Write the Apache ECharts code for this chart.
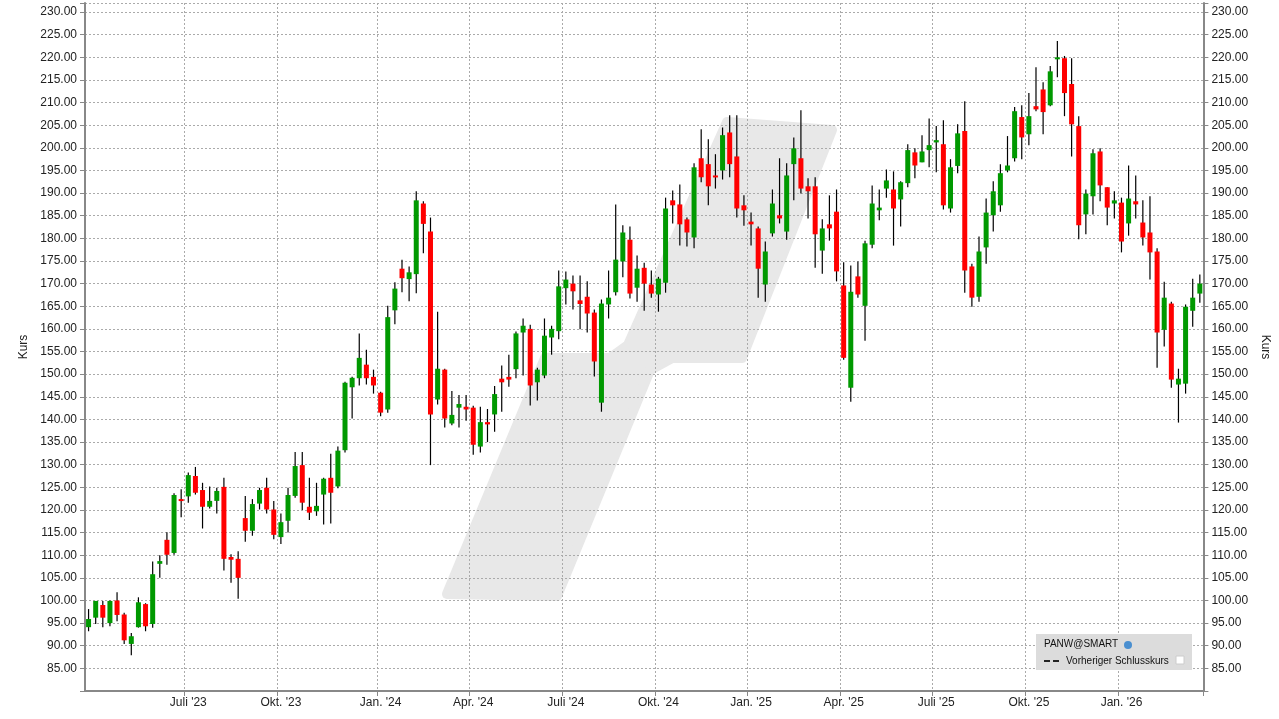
<!DOCTYPE html>
<html>
<head>
    <meta charset="utf-8">
    <script src="https://cdn.jsdelivr.net/npm/echarts@6/dist/echarts.min.js"></script>
    <style>
    html, body { margin: 0; padding: 0; background: #fff; }
    #main { width: 1279px; height: 719px; }
    </style>
    <title>PANW@SMART</title>
</head>
<body>
    <div id="main"></div>
    <script type="text/javascript">

        // weekly candles, first week starts 2023-03-20
        var startDate = '2023-03-20';

        var open = [94.1,96.2,99.0,95.0,100.0,96.9,90.4,94.1,99.2,94.8,108.1,113.4,110.5,122.4,123.0,127.5,124.4,120.7,122.0,125.1,109.6,109.2,118.2,115.4,121.4,
            124.9,120.1,114,117.6,123.1,129.9,120.7,119.7,123.4,127.1,125.2,133.2,147.1,149.1,152.1,149.4,145.9,142.2,164.1,173.3,171.0,172.1,187.7,181.5,144.4,151.0,
            139.1,142.6,142.8,142.6,134.0,139.4,141.1,149.0,149.4,151.1,159.2,160.0,148.2,149.7,158.1,159.5,169.0,170.0,166.3,167.1,163.6,143.7,165.4,168.1,
            174.9,179.7,169.1,173.5,169.8,167.6,170.2,188.4,187.5,184.2,180.2,197.7,196.4,193.9,195.0,203.4,198.1,187.3,183.7,182.2,169.8,181.1,185.1,181.5,196.4,
            197.7,191.5,191.5,177.3,183.1,185.9,169.6,147.0,171.6,165.1,178.6,186.2,191.0,190.8,188.6,192.2,199.0,196.8,199.5,201.2,200.8,186.6,196.0,203.7,173.8,
            167.1,178.0,185.1,187.3,195.0,197.7,206.8,203.0,209.2,212.9,209.4,219.6,219.8,214.1,204.8,185.3,189.3,199.2,191.3,187.7,187.9,183.3,188.2,183.5,181.3,177.1,159.8,165.6,147.7,147.9,164.0,167.8];

        var close = [95.9,99.9,96.2,99.9,96.8,91.2,92.1,99.6,94.3,105.8,108.7,110.1,123.3,122.0,127.7,123.8,120.7,122.0,124.2,109.2,109.0,105.0,115.4,121.3,124.4,
            120.1,114.5,117.3,123.3,129.7,121.6,119.4,120.9,126.9,123.8,133.1,148.1,149.2,153.6,149.1,147.5,141.5,162.6,168.9,171.2,172.5,188.4,183.2,141.1,151.2,140.2,
            141.0,143.4,142.2,134.4,139.4,138.9,145.6,148.2,148.8,159.0,160.7,147.5,151.0,158.5,160.0,169.4,170.9,168.3,165.5,163.4,152.8,165.6,166.9,175.3,
            181.3,167.8,173.3,170.0,167.8,171.1,186.6,187.3,183.1,181.3,195.7,193.5,191.5,193.5,202.8,196.4,186.6,186.2,183.1,173.3,177.1,187.7,184.4,193.9,199.9,
            191.0,190.4,180.9,182.2,182.2,172.7,153.6,168.2,167.6,178.9,187.7,186.8,192.8,186.6,192.4,199.5,196.1,199.2,200.6,201.7,187.3,195.7,203.2,172.9,166.9,
            177.1,185.7,190.4,194.4,196.1,208.1,202.3,207.0,208.5,207.9,216.9,220.0,212.1,205.2,182.9,189.9,198.8,191.7,186.8,188.4,179.3,188.8,187.5,180.2,176.9,159.2,166.9,148.8,149.0,164.9,166.9,170.0];

        var high = [98.1,99.9,99.9,100,101.8,97.3,92.8,100.7,99.4,108.6,110.0,115.1,123.7,124.6,128.3,129.5,126.0,125.2,124.9,127.1,110.2,110.9,123.1,122.4,124.9,
            127.1,122,119.2,124.9,132.8,132.8,127.1,126.0,127.1,132.4,134.0,148.3,149.4,159.0,155.4,151.0,146.1,165.1,170.3,175.3,173.8,190.4,188.2,184.6,163.8,151.2,
            146.3,145.4,145.4,143.0,142.8,142.3,147.4,151.9,154.3,159.4,162.3,160.9,151.4,162.3,160.7,172.9,172.7,171.8,171.8,170.5,164.3,166.5,172.9,187.5,
            182.9,182.6,176.2,174.6,172.9,171.5,189.0,190.6,191.9,184.6,196.6,204.1,201.9,198.6,204.5,207.2,207.2,189.5,185.7,182.6,179.3,190.8,197.7,196.6,202.3,
            208.3,193.3,193.5,184.2,189.5,190.8,174.7,174.0,174.9,179.5,191.7,190.8,195.2,194.8,192.6,200.8,199.9,202.8,206.5,204.8,206.1,197.5,205.2,210.3,174.4,
            180.4,188.8,192.6,196.4,202.6,209.0,209.4,212.1,217.8,214.5,218.1,223.6,220.3,219.8,207.0,190.8,199.7,199.9,191.3,190.4,189.0,196.1,193.9,188.4,189.3,177.8,170.4,166.0,151.2,165.4,171.1,172.0];

        var low = [93.2,94.8,94.1,94.3,95.4,90.4,87.9,94.0,93.2,94.0,105.0,107.9,110.1,118.4,121.6,123.4,115.9,120.3,119.2,106.6,103.9,100.4,113.0,114.3,120.1,
            119.2,113.5,112.5,115,122.7,120.0,117.8,118.7,116.8,117.0,124.8,132.7,140.2,147.5,147.7,145.7,140.7,141.5,161.0,168.1,166.1,167.9,176.7,129.9,143.3,138.2,
            138.7,138.2,139.7,132.2,132.7,135.0,137.3,141.7,147.2,149.1,149.7,143.1,144.2,149.1,154.3,157.7,165.4,164.3,159.9,159.2,149.5,141.7,162.3,167.4,
            171.4,166.7,166.0,164.0,166.9,163.8,168.0,183.3,178.4,178.2,177.8,192.4,187.3,191.0,193.0,193.5,184.6,182.8,178.4,166.9,166.0,180.4,183.3,179.7,188.4,
            189.9,184.4,173.5,172.2,179.5,170.5,153.2,143.9,166.9,157.4,177.8,184.0,189.0,178.4,182.6,191.3,193.3,196.8,195.7,194.6,186.4,185.7,194.4,168.0,164.9,
            166.0,174.4,181.5,185.9,194.6,197.0,197.5,200.6,208.1,203.0,209.2,215.6,207.0,198.1,179.8,180.9,185.3,188.2,182.9,184.4,176.9,180.6,184.4,178.4,170.9,151.4,156.1,147.0,139.3,145.7,160.5,165.8];

        var monthNames = {0: 'Jan.', 3: 'Apr.', 6: 'Juli', 9: 'Okt.'};

        // week start dates (categories) and quarter labels
        var weeks = [];
        var quarterLabel = [];
        var d0 = new Date(startDate + 'T00:00:00Z');
        for (var i = 0; i < open.length; i++) {
            var d = new Date(d0.getTime() + i * 7 * 86400000);
            weeks.push(d.toISOString().slice(0, 10));
            var end = new Date(d.getTime() + 6 * 86400000);
            var lbl = '';
            if (i > 4 && end.getUTCDate() <= 7 && monthNames[end.getUTCMonth()] !== undefined) {
                lbl = monthNames[end.getUTCMonth()] + " '" + String(end.getUTCFullYear()).slice(2);
            }
            quarterLabel.push(lbl);
        }
        function isQuarter(idx) { return quarterLabel[idx] !== ''; }

        var ohlc = [];
        for (var i = 0; i < open.length; i++) {
            ohlc.push([i, open[i], close[i], low[i], high[i]]);
        }

        var myChart = echarts.init(document.getElementById('main'));

        var font = 'Liberation Sans';
        var yLabel = {
            fontSize: 12,
            color: '#222',
            fontFamily: font,
            formatter: function (v) { return (v < 85 || v > 230) ? '' : v.toFixed(2); }
        };

        option = {
            animation: false,
            backgroundColor: '#fff',
            grid: { left: 85, right: 73, top: 3, bottom: 28 },
            graphic: [
                {
                    type: 'polygon', z: 0, silent: true,
                    shape: { points: [[447,594],[557,596],[650,370],[672,358],[742,358],[832,130],[727,122],[628,345],[610,358],[545,358]] },
                    style: { fill: '#e8e8e8', stroke: '#e8e8e8', lineWidth: 10, lineJoin: 'round' }
                },
                { type: 'rect', z: 100, shape: { x: 1036, y: 634, width: 156, height: 36 }, style: { fill: '#dcdcdc' } },
                { type: 'text', z: 101, left: 1044, top: 639, style: { text: 'PANW@SMART', fontSize: 10, fontFamily: font, fill: '#111' } },
                { type: 'circle', z: 101, shape: { cx: 1128, cy: 645, r: 4 }, style: { fill: '#4a8fd0' } },
                { type: 'line', z: 101, shape: { x1: 1044, y1: 661, x2: 1060, y2: 661 }, style: { stroke: '#222', lineWidth: 2, lineDash: [6, 3] } },
                { type: 'text', z: 101, left: 1066, top: 656, style: { text: 'Vorheriger Schlusskurs', fontSize: 10, fontFamily: font, fill: '#111' } },
                { type: 'rect', z: 101, shape: { x: 1176, y: 656, width: 8, height: 8 }, style: { fill: '#fff', stroke: '#ccc' } }
            ],
            xAxis: {
                type: 'category',
                data: weeks,
                boundaryGap: true,
                axisLine: { lineStyle: { color: '#888', width: 2 } },
                axisTick: { show: true, interval: function (idx) { return isQuarter(idx); }, lineStyle: { color: '#888' } },
                axisLabel: {
                    interval: function (idx) { return isQuarter(idx); },
                    formatter: function (v, idx) { return quarterLabel[idx]; },
                    fontSize: 12, color: '#222', fontFamily: font, margin: 6
                },
                splitLine: {
                    show: true,
                    interval: function (idx) { return isQuarter(idx); },
                    lineStyle: { color: '#aaa', type: [2, 2] }
                }
            },
            yAxis: [
                {
                    type: 'value', position: 'left', min: 80, max: 232, interval: 5,
                    name: 'Kurs', nameLocation: 'middle', nameGap: 44, nameRotate: 90,
                    nameTextStyle: { fontSize: 12, color: '#222', fontFamily: font },
                    axisLine: { show: true, lineStyle: { color: '#888', width: 2 } },
                    axisTick: { show: true, lineStyle: { color: '#888' } },
                    axisLabel: yLabel,
                    splitLine: { show: true, lineStyle: { color: '#aaa', type: [2, 2] } }
                },
                {
                    type: 'value', position: 'right', min: 80, max: 232, interval: 5,
                    name: 'Kurs', nameLocation: 'middle', nameGap: 45, nameRotate: -90,
                    nameTextStyle: { fontSize: 12, color: '#222', fontFamily: font },
                    axisLine: { show: true, lineStyle: { color: '#888', width: 2 } },
                    axisTick: { show: true, lineStyle: { color: '#888' } },
                    axisLabel: yLabel,
                    splitLine: { show: false }
                }
            ],
            series: [
                {
                    name: 'PANW',
                    type: 'custom',
                    z: 5,
                    data: ohlc,
                    encode: { x: 0, y: [1, 2, 3, 4] },
                    renderItem: function (params, api) {
                        var i = api.value(0);
                        var o = api.coord([i, api.value(1)]);
                        var c = api.coord([i, api.value(2)]);
                        var l = api.coord([i, api.value(3)]);
                        var h = api.coord([i, api.value(4)]);
                        var w = 5;
                        var up = api.value(2) >= api.value(1);
                        var top = Math.min(o[1], c[1]);
                        var bh = Math.max(Math.abs(o[1] - c[1]), 2);
                        return {
                            type: 'group',
                            children: [
                                { type: 'line', shape: { x1: h[0], y1: h[1], x2: l[0], y2: l[1] }, style: { stroke: '#000', lineWidth: 1.2 } },
                                { type: 'rect', shape: { x: o[0] - w / 2, y: top, width: w, height: bh }, style: { fill: up ? '#009900' : '#ff0000' } }
                            ]
                        };
                    }
                }
            ]
        };
        myChart.setOption(option);

    </script>
</body>
</html>
